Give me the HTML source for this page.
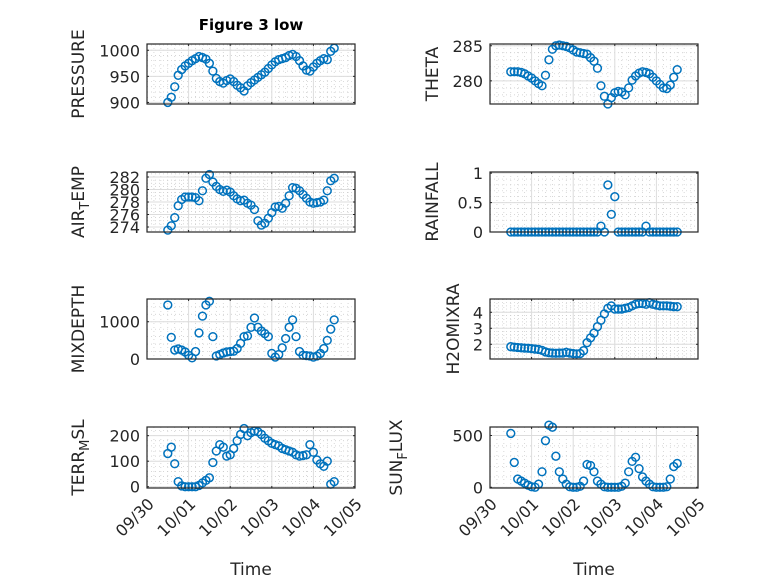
<!DOCTYPE html>
<html><head><meta charset="utf-8"><style>
html,body{margin:0;padding:0;background:#fff;}
svg{display:block;font-family:"DejaVu Sans","Liberation Sans",sans-serif;}
</style></head><body>
<svg id="fig" width="778" height="583" viewBox="0 0 778 583">
<text x="251" y="30" text-anchor="middle" font-size="15" font-weight="bold" fill="#000">Figure 3 low</text>
</svg>
<script>
const xTickLabels = ["09/30","10/01","10/02","10/03","10/04","10/05"];
const t0 = 0.5, dt = 1/12;
const pressure = [900,910,930,952,963,970,975,980,984,988,986,983,975,960,946,940,937,942,945,940,933,928,922,932,938,943,948,953,958,965,972,978,982,984,986,990,992,988,980,970,962,960,968,975,980,984,982,998,1004];
const theta = [281.3,281.3,281.3,281.2,281,280.7,280.4,280,279.6,279.3,280.8,283,284.5,285,285.1,285,284.9,284.7,284.4,284.1,284,283.9,283.8,283.3,282.8,281.8,279.3,277.8,276.7,277.6,278.3,278.5,278.4,278,279,280.1,280.7,281.1,281.3,281.2,281,280.5,280,279.5,279,278.9,279.4,280.5,281.6];
const airTemp = [273.5,274.2,275.5,277.4,278.4,278.8,278.8,278.8,278.7,278.2,279.8,281.8,282.4,281.2,280.5,280,279.7,279.9,279.6,279,278.5,278.2,278.3,277.8,277.5,276.8,275,274.3,274.6,275.4,276.3,277.2,277.3,277,277.8,279,280.3,280.2,279.8,279.2,278.6,278,277.8,277.9,278,278.3,279.8,281.4,281.8];
const rainfall = [0,0,0,0,0,0,0,0,0,0,0,0,0,0,0,0,0,0,0,0,0,0,0,0,0,0,0.1,0,0.8,0.3,0.6,0,0,0,0,0,0,0,0,0.1,0,0,0,0,0,0,0,0,0];
const mixDepth = [1450,580,240,270,240,190,100,30,200,700,1150,1450,1550,600,80,120,160,190,200,210,280,420,600,620,850,1100,850,750,680,600,150,50,120,300,550,850,1050,600,200,100,90,80,50,80,150,280,500,800,1050];
const h2oMix = [1.85,1.82,1.8,1.78,1.76,1.75,1.73,1.7,1.68,1.62,1.52,1.47,1.45,1.44,1.45,1.45,1.5,1.45,1.42,1.4,1.42,1.6,2.1,2.4,2.7,3.1,3.5,3.9,4.25,4.4,4.2,4.2,4.2,4.25,4.3,4.4,4.5,4.55,4.55,4.5,4.6,4.5,4.45,4.4,4.4,4.4,4.38,4.35,4.35];
const terrMsl = [130,155,90,20,3,0,0,0,0,5,15,25,35,95,140,165,155,120,125,150,180,205,228,200,212,218,215,205,190,180,170,165,160,150,145,140,135,125,120,122,125,165,135,105,90,80,100,10,20];
const sunFlux = [520,240,80,60,40,20,5,0,30,150,450,600,580,300,150,80,30,5,0,0,10,60,220,210,150,60,30,5,0,0,0,0,10,40,150,250,290,180,100,60,30,5,0,0,0,5,80,200,230];

const NS = "http://www.w3.org/2000/svg";
const svg = document.getElementById('fig');
function mk(tag, attrs, parent){ const e=document.createElementNS(NS,tag); for(const k in attrs) e.setAttribute(k,attrs[k]); (parent||svg).appendChild(e); return e; }

const panels = [
 {name:"pressure", label:["PRESSURE"], data:pressure, x0:147,x1:355,y0:44,y1:104, ylim:[897,1012], ticks:[900,950,1000], minor:10, lx:78, xl:false},
 {name:"theta", label:["THETA"], data:theta, x0:490,x1:698,y0:44,y1:104, ylim:[276.7,285.25], ticks:[280,285], minor:1, lx:432, xl:false},
 {name:"air-temp", label:["AIR","T","EMP"], data:airTemp, x0:147,x1:355,y0:172,y1:232, ylim:[273.2,282.8], ticks:[274,276,278,280,282], minor:0.5, lx:78, xl:false},
 {name:"rainfall", label:["RAINFALL"], data:rainfall, x0:490,x1:698,y0:172,y1:232, ylim:[0,1.02], ticks:[0,0.5,1], minor:0.1, lx:432, xl:false},
 {name:"mixdepth", label:["MIXDEPTH"], data:mixDepth, x0:147,x1:355,y0:299,y1:359, ylim:[0,1610], ticks:[0,1000], minor:200, lx:78, xl:false},
 {name:"h2omixra", label:["H2OMIXRA"], data:h2oMix, x0:490,x1:698,y0:299,y1:359, ylim:[1.08,4.83], ticks:[2,3,4], minor:0.2, lx:453, xl:false},
 {name:"terr-msl", label:["TERR","M","SL"], data:terrMsl, x0:147,x1:355,y0:427,y1:488, ylim:[-5,234], ticks:[0,100,200], minor:20, lx:78, xl:true},
 {name:"sun-flux", label:["SUN","F","LUX"], data:sunFlux, x0:490,x1:698,y0:427,y1:488, ylim:[-7,582], ticks:[0,500], minor:100, lx:396, xl:true}
];

panels.forEach(p=>{
  const g = mk('g',{});
  
  
  const xs = v => p.x0 + (v/5)*(p.x1-p.x0);
  const ys = v => p.y1 - (v-p.ylim[0])/(p.ylim[1]-p.ylim[0])*(p.y1-p.y0);
  mk('rect',{x:p.x0,y:p.y0,width:p.x1-p.x0,height:p.y1-p.y0,fill:"#fff"},g);
  for(let d=0; d<5; d++) for(let k=1;k<6;k++){ const x=xs(d+k/6); mk('line',{x1:x,x2:x,y1:p.y0,y2:p.y1,stroke:"#c8c8c8","stroke-width":0.7,"stroke-dasharray":"1 3"},g); }
  const mStart = Math.ceil(p.ylim[0]/p.minor);
  for(let m=mStart; m*p.minor<=p.ylim[1]; m++){ const v=m*p.minor; const y=ys(v); mk('line',{x1:p.x0,x2:p.x1,y1:y,y2:y,stroke:"#c8c8c8","stroke-width":0.7,"stroke-dasharray":"1 3"},g); }
  for(let d=1; d<5; d++){ const x=xs(d); mk('line',{x1:x,x2:x,y1:p.y0,y2:p.y1,stroke:"#dcdcdc","stroke-width":1},g); }
  p.ticks.forEach(v=>{ const y=ys(v); mk('line',{x1:p.x0,x2:p.x1,y1:y,y2:y,stroke:"#dcdcdc","stroke-width":1},g);
    mk('line',{x1:p.x0,x2:p.x0+2,y1:y,y2:y,stroke:"#262626"},g); mk('line',{x1:p.x1,x2:p.x1-2,y1:y,y2:y,stroke:"#262626"},g);
    const tl = mk('text',{x:p.x0-7,y:y+6,"text-anchor":"end","font-size":16,fill:"#262626"},g);
    
    
    tl.textContent = String(v);
  });
  for(let d=0; d<=5; d++){ const x=xs(d); mk('line',{x1:x,x2:x,y1:p.y1,y2:p.y1-2,stroke:"#262626"},g); mk('line',{x1:x,x2:x,y1:p.y0,y2:p.y0+2,stroke:"#262626"},g);
    if(p.xl){ const tx = mk('text',{x:0,y:0,"text-anchor":"end","font-size":16,fill:"#262626",transform:`translate(${x+8},${p.y1+17}) rotate(-45)`},g);
      
      
      tx.textContent = xTickLabels[d]; }
  }
  p.data.forEach((v,i)=>{ const c = mk('circle',{cx:xs(t0+i*dt),cy:ys(v),r:3.9,fill:"none",stroke:"#0072BD","stroke-width":1.5},g);
    
     });
  mk('rect',{x:p.x0,y:p.y0,width:p.x1-p.x0,height:p.y1-p.y0,fill:"none",stroke:"#262626","stroke-width":1.2},g);
  const cy=(p.y0+p.y1)/2;
  const yl = mk('text',{x:0,y:0,"text-anchor":"middle","font-size":17,fill:"#262626",transform:`translate(${p.lx+6},${cy}) rotate(-90)`},g);
  
  
  if(p.label.length===1) yl.textContent=p.label[0];
  else { const a=mk('tspan',{},yl); a.textContent=p.label[0]; const b=mk('tspan',{dy:5,"font-size":13},yl); b.textContent=p.label[1]; const c=mk('tspan',{dy:-5},yl); c.textContent=p.label[2]; }
  if(p.xl){ const xt = mk('text',{x:(p.x0+p.x1)/2,y:575,"text-anchor":"middle","font-size":17,fill:"#262626"},g);
    
    
    xt.textContent='Time'; }
});
</script>
</body></html>
